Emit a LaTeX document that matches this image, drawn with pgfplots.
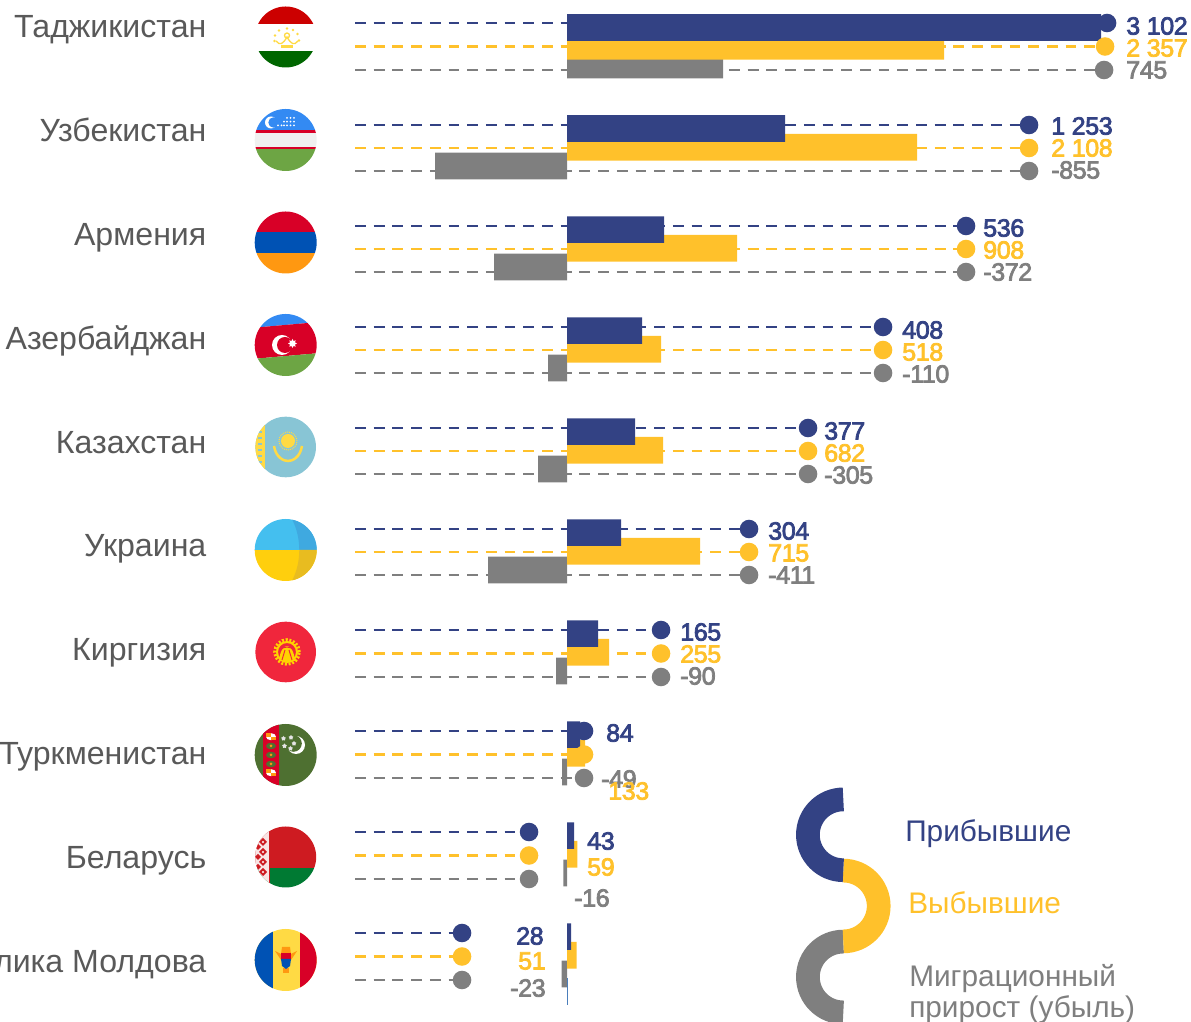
\documentclass[border=0pt]{standalone}
\usepackage{fontspec}
\usepackage{pgfplots}
\usepackage{pgfplotstable}
\pgfplotsset{compat=1.18}
\usetikzlibrary{shapes.geometric}
\setmainfont{Liberation Sans}
\newfontfamily\numfont[FakeBold=3,LetterSpace=-1.5]{Liberation Sans}
\definecolor{cblue}{HTML}{334284}
\definecolor{cyel}{HTML}{FFC12B}
\definecolor{cgry}{HTML}{7F7F7F}
\definecolor{ctxt}{HTML}{595959}
\definecolor{cthin}{HTML}{4A7EBB}
\definecolor{fred}{HTML}{D80027}
\definecolor{fblue}{HTML}{0052B4}
\definecolor{fsky}{HTML}{338AF3}
\definecolor{fgrn}{HTML}{6DA544}
\definecolor{fyel}{HTML}{FFDA44}
\definecolor{forg}{HTML}{FF9811}
\definecolor{tjred}{HTML}{CC0000}
\definecolor{tjgrn}{HTML}{006600}
\definecolor{kzb}{HTML}{88C5D5}
\definecolor{uab}{HTML}{44BFEF}
\definecolor{uay}{HTML}{FFCF0D}
\definecolor{uab2}{HTML}{3FA9E0}
\definecolor{uay2}{HTML}{E8BC20}
\definecolor{kgr}{HTML}{F0263C}
\definecolor{kgy}{HTML}{FFD200}
\definecolor{tmg}{HTML}{4E7031}
\definecolor{byr}{HTML}{CE1B21}
\definecolor{byg}{HTML}{007A33}
% bar extents (px from the zero line at x=567), y = bar centre
\pgfplotstableread{
y   len
27.6 534
128.6 218
229.6 97
330.6 75
431.6 68
532.6 54
633.6 31
734.6 13
835.6 7
936.6 4
}\tblue
\pgfplotstableread{
y   len
46.3 377
147.3 350
248.3 170
349.3 94
450.3 96
551.3 133
652.3 42
753.3 18
854.3 10.3
955.3 9.7
}\tyel
\pgfplotstableread{
y   len
65 156
166 -132
267 -73
368 -19
469 -29
570 -79
671 -11
772 -5
873 -3.7
974 -5.3
}\tgry
\newcommand{\leader}[3]{\addplot[#1,line width=2.5pt,dash pattern=on 10.8pt off 7.9pt,mark=*,mark size=8pt,mark indices={2},mark options={solid,fill=#1,draw=none}] coordinates {(-212,#2) (#3,#2)};}
\newcommand{\val}[4]{\node[anchor=west,inner sep=0pt,text=#1,font=\numfont\fontsize{25}{25}\selectfont] at (axis cs:#2-567,#3) {#4};}
\newcommand{\name}[2]{\node[anchor=base east,inner sep=0pt,text=ctxt,font=\fontsize{32.1}{32}\selectfont] at (axis cs:-360.5,#1) {#2};}
\newcommand{\legt}[4]{\node[anchor=base west,inner sep=0pt,text=#1,font=\fontsize{29.8}{30}\selectfont] at (axis cs:#2-567,#3) {#4};}
\begin{document}
\begin{tikzpicture}
\useasboundingbox (0pt,0pt) rectangle (1191pt,1022pt);
\clip (0pt,0pt) rectangle (1191pt,1022pt);
\begin{axis}[
  at={(0pt,0pt)},anchor=south west,
  scale only axis,width=1191pt,height=1022pt,
  xmin=-567,xmax=624,ymin=0,ymax=1022,y dir=reverse,
  axis lines=none,clip=false,
  bar width=26.7pt,bar shift=0pt]
% leaders
\leader{cgry}{70}{537}\leader{cyel}{46.5}{538}\leader{cblue}{23}{540}
\leader{cgry}{171}{462}\leader{cyel}{148}{462}\leader{cblue}{125}{462}
\leader{cgry}{272}{399}\leader{cyel}{249}{399}\leader{cblue}{226}{399}
\leader{cgry}{373}{316}\leader{cyel}{350}{316}\leader{cblue}{327}{316}
\leader{cgry}{474}{241}\leader{cyel}{451}{241}\leader{cblue}{428}{241}
\leader{cgry}{575}{182}\leader{cyel}{552}{182}\leader{cblue}{529}{182}
\leader{cgry}{677}{94}\leader{cyel}{653.5}{94}\leader{cblue}{630}{94}
\leader{cgry}{778}{17}\leader{cyel}{754.5}{17}\leader{cblue}{731}{17}
\leader{cgry}{879}{-38}\leader{cyel}{855.5}{-38}\leader{cblue}{832}{-38}
\leader{cgry}{980}{-105}\leader{cyel}{956.5}{-105}\leader{cblue}{933}{-105}
% bars
\addplot[xbar,fill=cgry,draw=none] table[x=len,y=y] {\tgry};
\addplot[xbar,fill=cyel,draw=none] table[x=len,y=y] {\tyel};
\addplot[xbar,fill=cblue,draw=none] table[x=len,y=y] {\tblue};
\addplot[color=cthin,line width=0.6pt] coordinates {(0.5,978) (0.5,1005)};
% names
\name{38}{Таджикистан}
\name{141.8}{Узбекистан}
\name{245.6}{Армения}
\name{349.4}{Азербайджан}
\name{453}{Казахстан}
\name{556.6}{Украина}
\name{660.4}{Киргизия}
\name{764.2}{Туркменистан}
\name{868}{Беларусь}
\name{972}{Республика Молдова}
% values
\val{cblue}{1126}{26}{3 102}\val{cyel}{1126}{48}{2 357}\val{cgry}{1126}{70}{745}
\val{cblue}{1051}{126}{1 253}\val{cyel}{1051}{148}{2 108}\val{cgry}{1051}{170}{-855}
\val{cblue}{983}{228}{536}\val{cyel}{983}{250}{908}\val{cgry}{983}{272}{-372}
\val{cblue}{902}{330}{408}\val{cyel}{902}{352}{518}\val{cgry}{902}{374}{-110}
\val{cblue}{824}{431}{377}\val{cyel}{824}{453}{682}\val{cgry}{824}{475}{-305}
\val{cblue}{768}{531}{304}\val{cyel}{768}{553}{715}\val{cgry}{768}{575}{-411}
\val{cblue}{680}{632}{165}\val{cyel}{680}{654}{255}\val{cgry}{680}{676}{-90}
\val{cblue}{606}{733}{84}\val{cgry}{601}{779}{-49}\val{cyel}{608}{791}{133}
\val{cblue}{587}{841}{43}\val{cyel}{587}{867}{59}\val{cgry}{574}{898}{-16}
\val{cblue}{516}{936}{28}\val{cyel}{518}{961}{51}\val{cgry}{510}{988}{-23}
% legend text
\legt{cblue}{905}{841}{Прибывшие}
\legt{cyel}{908}{913}{Выбывшие}
\legt{cgry}{909}{986}{Миграционный}
\legt{cgry}{909}{1017}{прирост (убыль)}
\end{axis}
\begin{scope}[shift={(0pt,1022pt)},x=1pt,y=-1pt]
% legend arcs
\draw[cgry,line width=23.7pt] (843.3,941.6) arc[start angle=90,end angle=270,radius=35.4pt];
\draw[cyel,line width=23.7pt] (843.3,870.6) arc[start angle=90,end angle=-90,radius=35.4pt];
\draw[cblue,line width=23.7pt] (843.3,799.4) arc[start angle=90,end angle=270,radius=35.4pt];
% Tajikistan
\begin{scope}
\clip (285.7,37) circle[radius=30.5pt];
\fill[tjred] (250,0) rectangle (320,24.5);
\fill[tjgrn] (250,50.7) rectangle (320,70);
\fill[fyel] (281,45.5) rectangle (293,48);
\draw[fyel,line width=1.3pt] (276,41) .. controls (280,46) and (283,44) .. (287,37) .. controls (291,44) and (294,46) .. (298,41);
\draw[fyel,line width=1.3pt] (287,35.5) circle[radius=2.5pt];
\foreach \p/\q in {274.5/41,275/35.5,279/30.5,287/28.5,293/30,297.5/34,299/40.5} \fill[fyel] (\p,\q) circle[radius=1.4pt];
\end{scope}
% Uzbekistan
\begin{scope}
\clip (285.7,140) circle[radius=31pt];
\fill[fsky] (250,100) rectangle (320,130);
\fill[fred] (250,130) rectangle (320,133.3);
\fill[black!6] (250,133.3) rectangle (320,146.7);
\fill[fred] (250,146.7) rectangle (320,149.3);
\fill[fgrn] (250,149.3) rectangle (320,175);
\fill[white] (271,122.5) circle[radius=6pt];
\fill[fsky] (273.5,122.5) circle[radius=5.2pt];
\foreach \p in {287,290.5,294} \foreach \q in {118,121.7,125.4} \fill[white] (\p,\q) circle[radius=1pt];
\foreach \p in {278,281.5,284} \fill[white] (\p,125.4) circle[radius=1pt];
\fill[white] (284,121.7) circle[radius=1pt];
\end{scope}
% Armenia
\begin{scope}
\clip (285.7,242.5) circle[radius=31pt];
\fill[fred] (250,205) rectangle (320,231.7);
\fill[fblue] (250,231.7) rectangle (320,253.3);
\fill[forg] (250,253.3) rectangle (320,280);
\end{scope}
% Azerbaijan
\begin{scope}
\clip (285.7,345) circle[radius=31pt];
\begin{scope}[rotate around={5:(285.7,345)}]
\fill[fsky] (240,300) rectangle (330,325);
\fill[fred] (240,325) rectangle (330,356);
\fill[fgrn] (240,356) rectangle (330,390);
\end{scope}
\fill[white] (282,345) circle[radius=10pt];
\fill[fred] (285,345) circle[radius=8pt];
\node[star,star points=8,star point ratio=1.7,fill=white,inner sep=0pt,minimum size=9pt] at (292.5,343.5) {};
\end{scope}
% Kazakhstan
\begin{scope}
\clip (285.7,447) circle[radius=30.3pt];
\fill[kzb] (250,410) rectangle (320,485);
\fill[fyel] (255,415) rectangle (265,480);
\foreach \q in {425,431,...,473} \fill[kzb] (258,\q) rectangle (262,\q+2.5);
\fill[fyel] (288,441) circle[radius=7pt];
\draw[fyel,line width=1pt,dash pattern=on 1pt off 1pt] (288,441) circle[radius=9pt];
\draw[fyel,line width=2.5pt] (274,446) .. controls (276,458) and (284,461) .. (288,461) .. controls (292,461) and (300,458) .. (302,446);
\end{scope}
% Ukraine
\begin{scope}
\clip (285.7,550) circle[radius=31pt];
\fill[uab] (250,515) rectangle (320,550);
\fill[uay] (250,550) rectangle (320,585);
\fill[uab2] (290,515) .. controls (298,530) and (299,540) .. (299.3,550) -- (320,550) -- (320,515) -- cycle;
\fill[uay2] (299.3,550) .. controls (299,560) and (298,570) .. (290,585) -- (320,585) -- (320,550) -- cycle;
\end{scope}
% Kyrgyzstan
\fill[kgr] (285.7,652) circle[radius=30.3pt];
\draw[kgy,line width=3pt,dash pattern=on 2pt off 1.7pt] (287,652) circle[radius=12.3pt];
\draw[kgy,line width=2pt] (287,652) circle[radius=10pt];
\fill[kgy] (279,661) .. controls (280,649) and (285,646) .. (287,646) .. controls (289,646) and (294,649) .. (295,661) -- cycle;
\draw[kgr,line width=1pt] (282,660) -- (285,650);
\draw[kgr,line width=1pt] (292,660) -- (289,650);
\draw[kgr,line width=1pt] (280,650) .. controls (284,646) and (290,646) .. (294,650);
% Turkmenistan
\begin{scope}
\clip (285.7,755) circle[radius=31pt];
\fill[tmg] (250,720) rectangle (320,790);
\fill[fred] (263.3,720) rectangle (279.3,790);
\foreach \q in {746,755,764} {\fill[tmg] (271,\q) ellipse[x radius=5pt,y radius=3.3pt]; \fill[forg] (271,\q) circle[radius=1.5pt];}
\foreach \q in {736.7,772.7} {\fill[white] (271,\q) ellipse[x radius=5pt,y radius=3.5pt]; \fill[forg] (266,\q) rectangle (271,\q-3.5); \fill[forg] (271,\q) rectangle (276,\q+3.5);}
\fill[white] (296,745) circle[radius=9pt];
\fill[tmg] (293.5,743.5) circle[radius=8.3pt];
\foreach \c in {(283.5,738.5),(291,737.5),(294,743.5),(284.5,746),(290.5,748.5)} \node[star,star points=5,fill=white!90!black,inner sep=0pt,minimum size=5pt] at \c {};
\end{scope}
% Belarus
\begin{scope}
\clip (285.7,857) circle[radius=30.5pt];
\fill[byr] (250,820) rectangle (320,868.3);
\fill[byg] (250,868.3) rectangle (320,895);
\fill[white!88!byr] (250,820) rectangle (270,895);
\foreach \q in {832,842,852,862,872,882} {\fill[byr] (263,\q-4) -- (267,\q) -- (263,\q+4) -- (259,\q) -- cycle; \fill[white] (263,\q) circle[radius=1.2pt];}
\foreach \q in {837,847,857,867,877} {\fill[byr] (258,\q-3) -- (261,\q) -- (258,\q+3) -- (255,\q) -- cycle;}
\draw[byr,line width=1pt] (269.7,826) -- (269.7,888);
\end{scope}
% Moldova
\begin{scope}
\clip (285.7,960) circle[radius=31pt];
\fill[fyel] (250,925) rectangle (320,995);
\fill[fblue] (250,925) rectangle (272.7,995);
\fill[fred] (299.7,925) rectangle (320,995);
\fill[forg] (275,951) -- (281,954) -- (282,947) -- (290,947) -- (291,954) -- (297,951) -- (291,960) -- (281,960) -- cycle;
\fill[forg] (283,968) rectangle (289,973);
\fill[fred] (281,953) rectangle (291,959);
\fill[fblue] (281,959) -- (291,959) -- (290,966) -- (286,969) -- (282,966) -- cycle;
\end{scope}
\end{scope}
\end{tikzpicture}
\end{document}
